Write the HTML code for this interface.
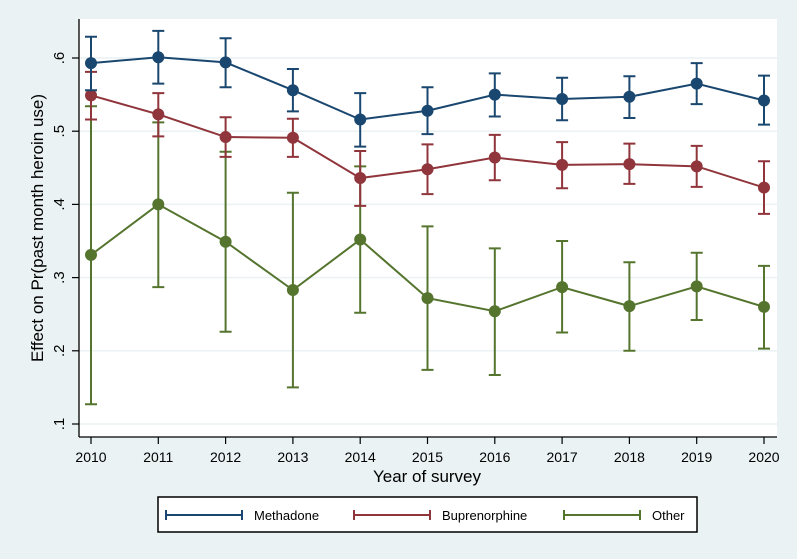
<!DOCTYPE html>
<html><head><meta charset="utf-8"><style>
body{margin:0;background:#eaf2f3;}
svg{display:block;font-family:"Liberation Sans",sans-serif;}
</style></head><body>
<svg id="chart" width="797" height="559">
<rect x="0" y="0" width="797" height="559" fill="#eaf2f3"/>
<rect x="79" y="19" width="698" height="418" fill="#fff"/>
<g id="grid"></g><g id="axes"></g><g id="series"></g>
<text x="0" y="0" transform="translate(43,228) rotate(-90)" text-anchor="middle" font-size="17" fill="#000">Effect on Pr(past month heroin use)</text>
<text x="427" y="482" text-anchor="middle" font-size="17" fill="#000">Year of survey</text>
<g>
<rect x="158" y="497" width="539" height="35" fill="#fff" stroke="#000" stroke-width="1.5"/>
<g>
<line x1="166" y1="515" x2="242" y2="515" stroke="#1a476f" stroke-width="2"/><line x1="166" y1="510" x2="166" y2="520" stroke="#1a476f" stroke-width="2"/><line x1="242" y1="510" x2="242" y2="520" stroke="#1a476f" stroke-width="2"/>
<text x="254" y="520" font-size="13">Methadone</text></g>
<g>
<line x1="354" y1="515" x2="430" y2="515" stroke="#90353b" stroke-width="2"/><line x1="354" y1="510" x2="354" y2="520" stroke="#90353b" stroke-width="2"/><line x1="430" y1="510" x2="430" y2="520" stroke="#90353b" stroke-width="2"/>
<text x="442" y="520" font-size="13">Buprenorphine</text></g>
<g>
<line x1="564" y1="515" x2="640" y2="515" stroke="#55752f" stroke-width="2"/><line x1="564" y1="510" x2="564" y2="520" stroke="#55752f" stroke-width="2"/><line x1="640" y1="510" x2="640" y2="520" stroke="#55752f" stroke-width="2"/>
<text x="652" y="520" font-size="13">Other</text></g>
</g>
</svg>
<script>
const years=[2010,2011,2012,2013,2014,2015,2016,2017,2018,2019,2020];
const yTicks=[0.1,0.2,0.3,0.4,0.5,0.6];
const yTickLabels=[".1",".2",".3",".4",".5",".6"];
const methEst=[.593,.601,.594,.556,.516,.528,.550,.544,.547,.565,.542];
const methHi=[.629,.637,.627,.585,.552,.560,.579,.573,.575,.593,.576];
const methLo=[.556,.565,.560,.527,.479,.496,.520,.515,.518,.537,.509];
const bupEst=[.549,.523,.492,.491,.436,.448,.464,.454,.455,.452,.423];
const bupHi=[.581,.552,.519,.517,.473,.482,.495,.485,.483,.480,.459];
const bupLo=[.516,.493,.465,.465,.398,.414,.433,.422,.428,.424,.387];
const othEst=[.331,.400,.349,.283,.352,.272,.254,.287,.261,.288,.260];
const othHi=[.534,.512,.472,.416,.452,.370,.340,.350,.321,.334,.316];
const othLo=[.127,.287,.226,.150,.252,.174,.167,.225,.200,.242,.203];
const NS="http://www.w3.org/2000/svg";
const xS=y=>91+(y-2010)*67.3;
const yS=v=>58+(0.6-v)*732;
function mk(parent,tag,at){const e=document.createElementNS(NS,tag);for(const k in at)e.setAttribute(k,at[k]);parent.appendChild(e);return e;}
const grid=document.getElementById('grid'),axes=document.getElementById('axes'),ser=document.getElementById('series');
yTicks.forEach((t,i)=>{
 const g=mk(grid,'line',{x1:79,x2:777,y1:yS(t),y2:yS(t),stroke:'#eaf2f3','stroke-width':1.5});
 
 
 const tk=mk(axes,'line',{x1:72,x2:79,y1:yS(t),y2:yS(t),stroke:'#000','stroke-width':1.2});
 
 
 const tx=mk(axes,'text',{x:0,y:0,transform:`translate(64,${yS(t)}) rotate(-90)`,'text-anchor':'middle','font-size':15});
 tx.textContent=yTickLabels[i];
 
 
});
const ya=mk(axes,'line',{x1:79,x2:79,y1:19,y2:437,stroke:'#000','stroke-width':1.3});


const xa=mk(axes,'line',{x1:79,x2:777,y1:437,y2:437,stroke:'#000','stroke-width':1.3});


years.forEach(y=>{
 const tk=mk(axes,'line',{x1:xS(y),x2:xS(y),y1:437,y2:444,stroke:'#000','stroke-width':1.2});
 
 
 const tx=mk(axes,'text',{x:xS(y),y:462,'text-anchor':'middle','font-size':14});
 tx.textContent=y;
 
 
});
function series(name,est,hi,lo,col){
 const g=mk(ser,'g',{});
 
 
 years.forEach((y,i)=>{
  const x=xS(y);
  const e=mk(g,'path',{d:`M${x},${yS(hi[i])}V${yS(lo[i])}M${x-6},${yS(hi[i])}H${x+6}M${x-6},${yS(lo[i])}H${x+6}`,stroke:col,'stroke-width':2,fill:'none'});
  
  
 });
 const l=mk(g,'polyline',{points:years.map((y,i)=>xS(y)+','+yS(est[i])).join(' '),stroke:col,'stroke-width':2,fill:'none'});
 
 
 years.forEach((y,i)=>{
  const c=mk(g,'circle',{cx:xS(y),cy:yS(est[i]),r:6,fill:col});
  
  
 });
}
series('other',othEst,othHi,othLo,'#55752f');
series('buprenorphine',bupEst,bupHi,bupLo,'#90353b');
series('methadone',methEst,methHi,methLo,'#1a476f');
</script>
</body></html>
